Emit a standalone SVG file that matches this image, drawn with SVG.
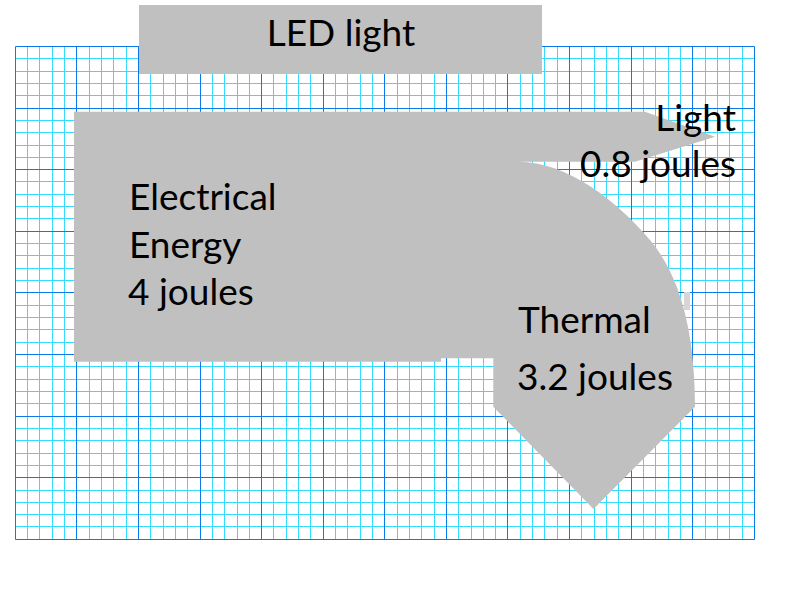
<svg xmlns="http://www.w3.org/2000/svg" width="800" height="600" viewBox="0 0 800 600">
<style>
.minor{fill:none;stroke:#33dcff;stroke-width:1}
.major{fill:none;stroke:#0a7ae8;stroke-width:1}
.gray{fill:#c0c0c0}
.lbl{font-family:Lato,"Open Sans","Liberation Sans",sans-serif;font-size:37px;fill:#000}
</style>
<rect width="800" height="600" fill="#fff"/>
<g id="grid">
<path class="minor" d="M27.5 46.5V539.5M39.5 46.5V539.5M52.5 46.5V539.5M64.5 46.5V539.5M89.5 46.5V539.5M101.5 46.5V539.5M113.5 46.5V539.5M126.5 46.5V539.5M150.5 46.5V539.5M163.5 46.5V539.5M175.5 46.5V539.5M187.5 46.5V539.5M212.5 46.5V539.5M224.5 46.5V539.5M237.5 46.5V539.5M249.5 46.5V539.5M273.5 46.5V539.5M286.5 46.5V539.5M298.5 46.5V539.5M310.5 46.5V539.5M335.5 46.5V539.5M347.5 46.5V539.5M360.5 46.5V539.5M372.5 46.5V539.5M397.5 46.5V539.5M409.5 46.5V539.5M421.5 46.5V539.5M434.5 46.5V539.5M458.5 46.5V539.5M471.5 46.5V539.5M483.5 46.5V539.5M495.5 46.5V539.5M520.5 46.5V539.5M532.5 46.5V539.5M544.5 46.5V539.5M557.5 46.5V539.5M581.5 46.5V539.5M594.5 46.5V539.5M606.5 46.5V539.5M618.5 46.5V539.5M643.5 46.5V539.5M655.5 46.5V539.5M668.5 46.5V539.5M680.5 46.5V539.5M705.5 46.5V539.5M717.5 46.5V539.5M729.5 46.5V539.5M742.5 46.5V539.5
M15.5 58.5H754.5M15.5 71.5H754.5M15.5 83.5H754.5M15.5 95.5H754.5M15.5 120.5H754.5M15.5 132.5H754.5M15.5 145.5H754.5M15.5 157.5H754.5M15.5 181.5H754.5M15.5 194.5H754.5M15.5 206.5H754.5M15.5 218.5H754.5M15.5 243.5H754.5M15.5 255.5H754.5M15.5 268.5H754.5M15.5 280.5H754.5M15.5 305.5H754.5M15.5 317.5H754.5M15.5 329.5H754.5M15.5 342.5H754.5M15.5 366.5H754.5M15.5 379.5H754.5M15.5 391.5H754.5M15.5 403.5H754.5M15.5 428.5H754.5M15.5 440.5H754.5M15.5 453.5H754.5M15.5 465.5H754.5M15.5 490.5H754.5M15.5 502.5H754.5M15.5 514.5H754.5M15.5 526.5H754.5"/>
<path class="major" d="M15.5 46.5V539.5M76.5 46.5V539.5M138.5 46.5V539.5M200.5 46.5V539.5M261.5 46.5V539.5M323.5 46.5V539.5M384.5 46.5V539.5M446.5 46.5V539.5M507.5 46.5V539.5M569.5 46.5V539.5M631.5 46.5V539.5M692.5 46.5V539.5M754.5 46.5V539.5
M15.5 46.5H754.5M15.5 108.5H754.5M15.5 169.5H754.5M15.5 231.5H754.5M15.5 292.5H754.5M15.5 354.5H754.5M15.5 416.5H754.5M15.5 477.5H754.5M15.5 539.5H754.5"/>
</g>
<g id="connectors">
<path id="energy-flow" class="gray" d="M74 111.7H645L715 136.7L635 161.7H518C568 161.7 617.8 201.75 650 240C685.4 282.1 695 346.7 695 406.7L593.5 509L493.3 406.7V358.3H441V361.7H74Z"/>
<rect x="684" y="292" width="6" height="18" fill="#d6d6d6"/>
</g>
<g id="led-light">
<rect class="gray" x="139" y="5" width="403" height="69"/>
<text class="lbl" x="341" y="46" text-anchor="middle">LED light</text>
</g>
<g id="electrical-energy">
<text class="lbl" x="129" y="210">Electrical</text>
<text class="lbl" x="129" y="258">Energy</text>
<text class="lbl" x="128" y="305">4 joules</text>
</g>
<g id="light-output">
<text class="lbl" x="736" y="131" text-anchor="end">Light</text>
<text class="lbl" x="736" y="177" text-anchor="end">0.8 joules</text>
</g>
<g id="thermal-output">
<text class="lbl" x="518" y="333">Thermal</text>
<text class="lbl" x="517" y="390">3.2 joules</text>
</g>
</svg>
